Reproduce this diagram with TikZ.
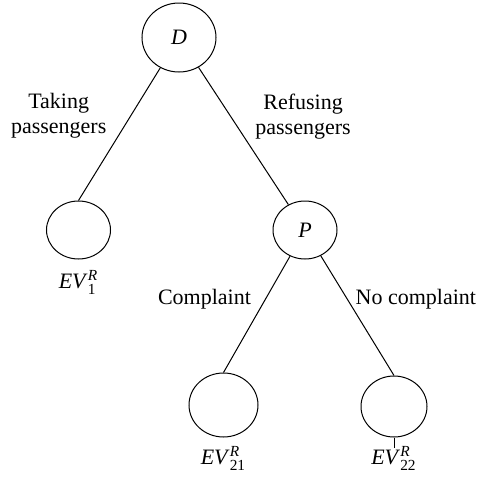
\documentclass[tikz,border=0pt]{standalone}
\usepackage{amsmath}
\usepackage{fontspec}
\setmainfont{Liberation Serif}
\usetikzlibrary{shapes.geometric,positioning}

\newcommand{\evlab}[1]{\textit{EV}$^{\textit{R}}_{\text{#1}}$}

\begin{document}
\begin{tikzpicture}[x=0.5pt,y=-0.5pt,line width=0.5pt,
  font=\fontsize{11}{12.5}\selectfont,
  state/.style={draw,ellipse,inner sep=0pt,minimum width=32pt,minimum height=29pt},
  choice/.style={align=center,inner sep=2pt}]
  \useasboundingbox (0,0) rectangle (483,477);

  %% The states of the tree
  \node[state,minimum width=37pt,minimum height=34.5pt] (D) at (179,37.5) {\textit{D}};
  \node[state] (EV1) at (78.5,230) {};
  \node[state] (P) at (305,230) {\textit{P}};
  \node[state,minimum width=34.5pt,minimum height=32pt] (EV21) at (223.5,405) {};
  \node[state,minimum width=33pt,minimum height=30.5pt] (EV22) at (394,406.5) {};

  %% Values under the leaves
  \node[below=2pt of EV1] (EVL1) {\evlab{1}};
  \node[below=1pt of EV21] (EVL21) {\evlab{21}};
  \node[below=1pt of EV22] (EVL22) {\evlab{22}};
  \draw (EV22.south) -- ++(0,10) coordinate (T22);

  %% Branches
  \draw (D) -- node[choice,pos=0.36,left=10pt] (TAKE) {Taking\\passengers} (EV1.north);
  \draw (D) -- node[choice,pos=0.36,right=10pt] (REFUSE) {Refusing\\passengers} (P);
  \draw (P) -- node[choice,pos=0.37,left=5pt] (COMPL) {Complaint} (EV21.north);
  \draw (P) -- node[choice,pos=0.36,right=2pt] (NOCOMPL) {No complaint} (EV22.north);
\end{tikzpicture}
\end{document}
